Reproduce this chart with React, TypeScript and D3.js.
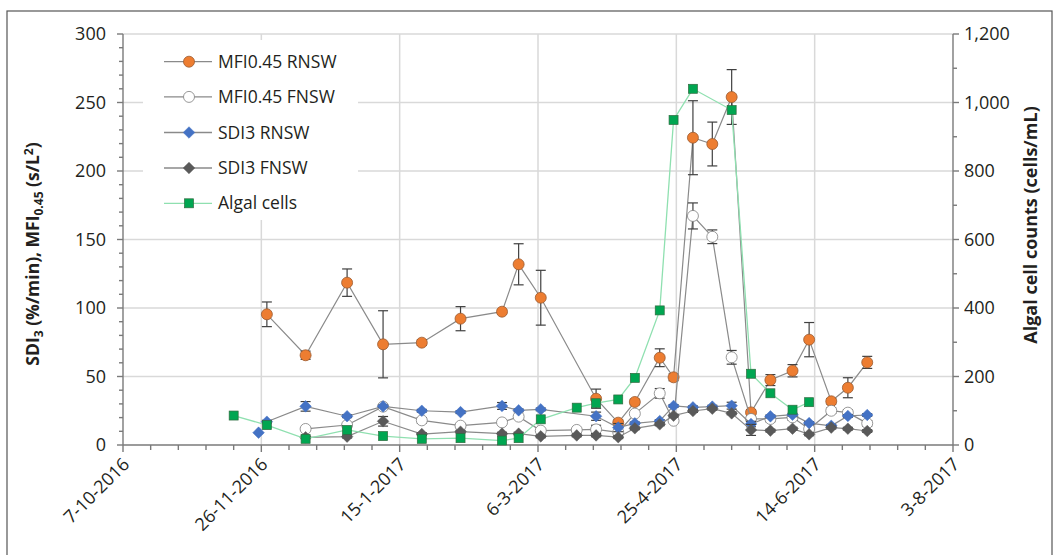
import React from "react";
import * as d3 from "d3";

const parse = d3.timeParse("%Y-%m-%d");

// ---------- axis ticks ----------
const xTickDates = ["2016-10-07", "2016-11-26", "2017-01-15", "2017-03-06", "2017-04-25", "2017-06-14", "2017-08-03"];
const xTickLabels = ["7-10-2016", "26-11-2016", "15-1-2017", "6-3-2017", "25-4-2017", "14-6-2017", "3-8-2017"];
const leftTicks = [0, 50, 100, 150, 200, 250, 300];
const rightTicks = [0, 200, 400, 600, 800, 1000, 1200];

// ---------- data ----------
const mfiRnswDates = ["2016-11-28", "2016-12-12", "2016-12-27", "2017-01-09", "2017-01-23", "2017-02-06", "2017-02-21", "2017-02-27", "2017-03-07", "2017-03-27", "2017-04-04", "2017-04-10", "2017-04-19", "2017-04-24", "2017-05-01", "2017-05-08", "2017-05-15", "2017-05-22", "2017-05-29", "2017-06-06", "2017-06-12", "2017-06-20", "2017-06-26", "2017-07-03"];
const mfiRnswValues = [95.4, 65.5, 118.5, 73.5, 74.7, 92.2, 97.3, 131.9, 107.5, 33.8, 16.3, 31.4, 63.7, 49.4, 224.3, 219.7, 254, 23.8, 47.4, 54.2, 76.9, 31.9, 41.8, 60.3];
const mfiRnswErrors = [9, 3, 10, 24.5, 2, 8.8, 1.5, 15, 20, 7, 2, 2, 6.5, 2.5, 27, 16, 20, 2, 4, 4.5, 12.5, 2, 7.3, 4.4];

const fnswDates = ["2016-12-12", "2016-12-27", "2017-01-09", "2017-01-23", "2017-02-06", "2017-02-21", "2017-02-27", "2017-03-07", "2017-03-20", "2017-03-27", "2017-04-04", "2017-04-10", "2017-04-19", "2017-04-24", "2017-05-01", "2017-05-08", "2017-05-15", "2017-05-22", "2017-05-29", "2017-06-06", "2017-06-12", "2017-06-20", "2017-06-26", "2017-07-03"];
const mfiFnswValues = [11.7, 14.6, 28, 18, 14.1, 16.5, 20.7, 10.5, 11, 11.4, 9.3, 22.9, 37.7, 17.7, 167.2, 152, 64, 19, 19, 20.2, 11.7, 25, 23.6, 15.8];
const mfiFnswErrors = [1, 1, 1, 2, 1.5, 1.5, 1, 1, 1, 3, 1, 1, 3.5, 1, 9.5, 5, 5, 2, 2, 2, 2, 2, 2, 2];

const sdiRnswDates = ["2016-11-28", "2016-12-12", "2016-12-27", "2017-01-09", "2017-01-23", "2017-02-06", "2017-02-21", "2017-02-27", "2017-03-07", "2017-03-27", "2017-04-04", "2017-04-10", "2017-04-19", "2017-04-24", "2017-05-01", "2017-05-08", "2017-05-15", "2017-05-22", "2017-05-29", "2017-06-06", "2017-06-12", "2017-06-20", "2017-06-26", "2017-07-03"];
const sdiRnswValues = [17, 28.2, 21, 28.2, 25, 24, 28.5, 25.3, 26, 21, 12.7, 15.8, 17.5, 28.5, 27.5, 28, 28.7, 15.3, 20.9, 22.1, 16, 14, 21.2, 21.9];
const sdiRnswErrors = [1, 3.5, 1, 1, 1, 1, 2.5, 1, 1, 3, 3, 1, 1, 1, 1, 1, 2.5, 2, 1, 1, 1, 1, 1, 1];
const sdiRnswLoneDates = ["2016-11-25"];
const sdiRnswLoneValues = [9];

const sdiFnswValues = [5.6, 6.1, 17.3, 8, 9.7, 8.3, 8.3, 6.3, 7, 7, 5.7, 12.2, 15.1, 21.4, 24.8, 26.5, 23.1, 11, 10.5, 11.9, 7.8, 12.7, 11.9, 10.2];
const sdiFnswErrors = [1, 1, 3.5, 1, 1, 1, 1, 1, 1, 1, 1, 1, 1, 1, 1, 1, 1, 4, 1, 1, 1, 1, 1, 1];

const algalDates = ["2016-11-16", "2016-11-28", "2016-12-12", "2016-12-27", "2017-01-09", "2017-01-23", "2017-02-06", "2017-02-21", "2017-02-27", "2017-03-07", "2017-03-20", "2017-03-27", "2017-04-04", "2017-04-10", "2017-04-19", "2017-04-24", "2017-05-01", "2017-05-15", "2017-05-22", "2017-05-29", "2017-06-06", "2017-06-12"];
const algalValues = [86, 58, 18, 44, 26, 18, 20, 13, 20, 75, 109, 122, 133, 196, 393, 949, 1040, 978, 208, 151, 103, 125];

const legendLabels = ["MFI0.45 RNSW", "MFI0.45 FNSW", "SDI3 RNSW", "SDI3 FNSW", "Algal cells"];

// ---------- layout ----------
const W = 1059, H = 555;
const X0 = 123, X1 = 953, Y0 = 445, Y1 = 34;
const FONT = "'Open Sans', 'Noto Sans', sans-serif";
const AXIS = "#7a7a7a";
const GRID = "#d9d9d9";
const LINE = "#8a8a8a";
const ERR = "#404040";

type Pt = { d: Date; v: number; e?: number };
const mk = (ds: string[], vs: number[], es?: number[]): Pt[] =>
  ds.map((s, i) => ({ d: parse(s) as Date, v: vs[i], e: es ? es[i] : undefined }));

export default function App() {
  const x = d3.scaleTime().domain([parse(xTickDates[0]) as Date, parse(xTickDates[6]) as Date]).range([X0, X1]);
  const yL = d3.scaleLinear().domain([0, 300]).range([Y0, Y1]);
  const yR = d3.scaleLinear().domain([0, 1200]).range([Y0, Y1]);

  const mfiR = mk(mfiRnswDates, mfiRnswValues, mfiRnswErrors);
  const mfiF = mk(fnswDates, mfiFnswValues, mfiFnswErrors);
  const sdiR = mk(sdiRnswDates, sdiRnswValues, sdiRnswErrors);
  const sdiRLone = mk(sdiRnswLoneDates, sdiRnswLoneValues);
  const sdiF = mk(fnswDates, sdiFnswValues, sdiFnswErrors);
  const algal = mk(algalDates, algalValues);

  const lineL = d3.line<Pt>().x((p) => x(p.d)).y((p) => yL(p.v));
  const lineR = d3.line<Pt>().x((p) => x(p.d)).y((p) => yR(p.v));

  const start = parse(xTickDates[0]) as Date;
  const minorX = d3.range(0, 301, 10).map((n) => d3.timeDay.offset(start, n));
  const minorL = d3.range(0, 301, 10);
  const minorR = d3.range(0, 1201, 100);

  const errBars = (pts: Pt[], key: string) =>
    pts.map((p, i) => {
      if (!p.e) return null;
      const cx = x(p.d), t = yL(p.v + p.e), b = yL(p.v - p.e);
      return (
        <g key={key + i} stroke={ERR} strokeWidth={1.2}>
          <line x1={cx} x2={cx} y1={t} y2={b} />
          <line x1={cx - 5} x2={cx + 5} y1={t} y2={t} />
          <line x1={cx - 5} x2={cx + 5} y1={b} y2={b} />
        </g>
      );
    });

  const circle = (cx: number, cy: number, fill: string, stroke: string, k: string) => (
    <circle key={k} cx={cx} cy={cy} r={5.5} fill={fill} stroke={stroke} strokeWidth={0.8} />
  );
  const diamond = (cx: number, cy: number, fill: string, k: string) => (
    <path key={k} d={`M${cx},${cy - 5.8}L${cx + 5.8},${cy}L${cx},${cy + 5.8}L${cx - 5.8},${cy}Z`} fill={fill} stroke={fill} strokeWidth={0.5} />
  );
  const square = (cx: number, cy: number, k: string) => (
    <rect key={k} x={cx - 4.5} y={cy - 4.5} width={9} height={9} fill="#00a651" stroke="#2f6b3f" strokeWidth={0.7} />
  );

  const legendY = [61.7, 96.9, 132.5, 168, 203.3];

  return (
    <svg width={W} height={H} style={{ position: "absolute", left: 0, top: 0, background: "#fff" }} fontFamily={FONT}>
      <rect x={0} y={0} width={W} height={H} fill="#fff" />
      <rect x={7} y={11} width={1045} height={600} fill="none" stroke="#555" strokeWidth={1.2} />

      {/* grid */}
      {leftTicks.slice(1).map((t) => (
        <line key={"gh" + t} x1={X0} x2={X1} y1={yL(t)} y2={yL(t)} stroke={GRID} strokeWidth={1.5} />
      ))}
      {xTickDates.slice(1, 6).map((s) => (
        <line key={"gv" + s} x1={x(parse(s) as Date)} x2={x(parse(s) as Date)} y1={Y1} y2={Y0} stroke={GRID} strokeWidth={1.5} />
      ))}

      {/* axes */}
      <g stroke={AXIS} strokeWidth={1.4}>
        <line x1={X0} x2={X1} y1={Y0} y2={Y0} />
        <line x1={X0} x2={X0} y1={Y1} y2={Y0} />
        <line x1={X1} x2={X1} y1={Y1} y2={Y0} />
        {minorX.map((d, i) => (
          <line key={"mx" + i} x1={x(d)} x2={x(d)} y1={Y0} y2={Y0 + (i % 5 === 0 ? 7 : 5)} />
        ))}
        {minorL.map((t) => (
          <line key={"ml" + t} x1={X0 - (t % 50 === 0 ? 6 : 4)} x2={X0} y1={yL(t)} y2={yL(t)} />
        ))}
        {minorR.map((t) => (
          <line key={"mr" + t} x1={X1} x2={X1 + (t % 200 === 0 ? 6 : 4)} y1={yR(t)} y2={yR(t)} />
        ))}
      </g>

      {/* tick labels */}
      <g fill="#231f20" fontSize={18}>
        {leftTicks.map((t) => (
          <text key={"lt" + t} x={X0 - 17} y={yL(t)} dy="0.35em" textAnchor="end">{t}</text>
        ))}
        {rightTicks.map((t) => (
          <text key={"rt" + t} x={X1 + 11} y={yR(t)} dy="0.35em" textAnchor="start">{d3.format(",")(t)}</text>
        ))}
        {xTickDates.map((s, i) => {
          const px = x(parse(s) as Date);
          return (
            <text key={"xt" + s} transform={`translate(${px + 3},${Y0 + 16}) rotate(-45)`} textAnchor="end" dy="0.35em">
              {xTickLabels[i]}
            </text>
          );
        })}
      </g>

      {/* axis titles */}
      <text transform={`translate(39,254) rotate(-90)`} textAnchor="middle" fontSize={17.5} fontWeight="bold" fill="#231f20">
        SDI<tspan fontSize={12} dy={4}>3</tspan>
        <tspan dy={-4}> (%/min), MFI</tspan>
        <tspan fontSize={12} dy={4}>0.45</tspan>
        <tspan dy={-4}> (s/L</tspan>
        <tspan fontSize={12} dy={-6}>2</tspan>
        <tspan dy={6}>)</tspan>
      </text>
      <text transform={`translate(1037,225) rotate(-90)`} textAnchor="middle" fontSize={18} fontWeight="bold" fill="#231f20">
        Algal cell counts (cells/mL)
      </text>

      {/* MFI RNSW */}
      <path d={lineL(mfiR) || ""} fill="none" stroke={LINE} strokeWidth={1.2} />
      {errBars(mfiR, "er")}
      {mfiR.map((p, i) => circle(x(p.d), yL(p.v), "#ed7d31", "#9a5a30", "cr" + i))}

      {/* MFI FNSW */}
      <path d={lineL(mfiF) || ""} fill="none" stroke={LINE} strokeWidth={1.2} />
      {errBars(mfiF, "ef")}
      {mfiF.map((p, i) => circle(x(p.d), yL(p.v), "#ffffff", "#7f7f7f", "cf" + i))}

      {/* SDI RNSW */}
      <path d={lineL(sdiR) || ""} fill="none" stroke={LINE} strokeWidth={1.2} />
      {errBars(sdiR, "es")}
      {sdiR.map((p, i) => diamond(x(p.d), yL(p.v), "#4472c4", "ds" + i))}
      {sdiRLone.map((p, i) => diamond(x(p.d), yL(p.v), "#4472c4", "dl" + i))}

      {/* SDI FNSW */}
      <path d={lineL(sdiF) || ""} fill="none" stroke={LINE} strokeWidth={1.2} />
      {errBars(sdiF, "eg")}
      {sdiF.map((p, i) => diamond(x(p.d), yL(p.v), "#595959", "dg" + i))}

      {/* Algal */}
      <path d={lineR(algal) || ""} fill="none" stroke="#8fe0b0" strokeWidth={1.3} />
      {algal.map((p, i) => square(x(p.d), yR(p.v), "sq" + i))}

      {/* legend */}
      <rect x={143} y={40} width={215} height={180} fill="#fff" />
      {legendLabels.map((lab, i) => {
        const ly = legendY[i];
        const stroke = i === 4 ? "#8fe0b0" : LINE;
        let m: React.ReactNode;
        if (i === 0) m = circle(189, ly, "#ed7d31", "#9a5a30", "lm" + i);
        else if (i === 1) m = circle(189, ly, "#ffffff", "#7f7f7f", "lm" + i);
        else if (i === 2) m = diamond(189, ly, "#4472c4", "lm" + i);
        else if (i === 3) m = diamond(189, ly, "#595959", "lm" + i);
        else m = square(189, ly, "lm" + i);
        return (
          <g key={"lg" + i}>
            <line x1={164} x2={212} y1={ly} y2={ly} stroke={stroke} strokeWidth={1.3} />
            {m}
            <text x={218} y={ly} dy="0.35em" fontSize={17.5} fill="#231f20">{lab}</text>
          </g>
        );
      })}
    </svg>
  );
}
